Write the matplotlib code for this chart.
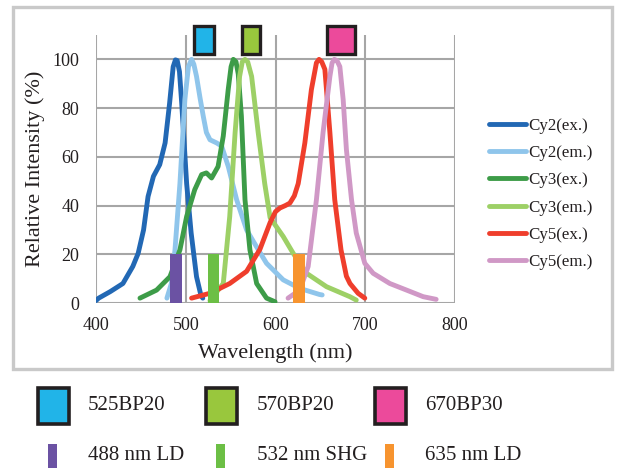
import matplotlib
matplotlib.use("Agg")
import matplotlib.pyplot as plt
from matplotlib.patches import Rectangle

plt.rcParams['font.family'] = ['Liberation Serif', 'DejaVu Serif']

# ---- data ----
cy2_ex_x = [400, 403, 416, 430, 441, 447, 453, 458, 464, 471, 477, 482, 486, 488.5, 490.5, 493, 495.5, 501, 506, 512, 517, 519]
cy2_ex_y = [1, 2, 4.7, 8, 15, 20.4, 30, 43.7, 52, 56.8, 65.7, 82, 97, 99.8, 99.5, 95, 82, 49, 28.8, 10.8, 3, 2]

cy2_em_x = [479, 484, 488, 493.5, 499, 503, 506.5, 509, 512, 516, 519.5, 523, 527, 534.4, 540, 547.4, 556.7, 567.8, 579, 590, 608.6, 627, 649, 652]
cy2_em_y = [2, 8, 21.8, 49, 83.5, 97, 100, 98, 93, 84, 76.7, 70, 67, 65.7, 64.4, 56, 42.4, 30, 23, 16.3, 9.5, 6, 3.5, 3.3]

cy3_ex_x = [449, 467.5, 482.4, 493.5, 501, 510, 517.7, 523, 528.8, 536, 541.8, 547.3, 550.5, 553, 556, 558.5, 562, 566, 571.5, 579, 590, 599.5]
cy3_ex_y = [2, 5.3, 10.8, 21.8, 35.5, 46.5, 52.7, 53.4, 51.3, 56, 68.5, 87.6, 97, 100, 99, 94, 76.7, 42.4, 21.8, 8, 2, 0.5]

cy3_em_x = [527, 541.8, 549, 555, 560, 563, 566, 569, 573.4, 580.7, 588, 594, 608.6, 619.7, 634.6, 656.8, 682.8, 690]
cy3_em_y = [1, 8, 35.5, 70, 93, 99, 100, 99, 93, 70, 49, 35, 27.3, 20.4, 12.2, 6.7, 2.6, 1.2]

cy5_ex_x = [506.5, 527, 549, 567.8, 582.6, 594, 600, 605, 611, 616, 621, 625.3, 632.7, 640, 645.6, 648.5, 651.5, 655, 660.6, 666, 673, 679, 683, 692, 699.5]
cy5_ex_y = [2, 4, 8, 13, 22, 33, 37.5, 39, 40, 41, 44, 49, 65.7, 87.6, 98.6, 100, 99, 95.9, 70, 42.4, 21.8, 11, 8, 4, 2]

cy5_em_x = [614, 627, 636.4, 645.6, 653, 660.6, 663, 665.5, 668.5, 671.7, 675.4, 679, 684.7, 690, 699.5, 708.8, 727.4, 746, 764.5, 779]
cy5_em_y = [2, 5.3, 15, 42.4, 70, 93, 98.5, 100, 99.5, 97, 83.5, 63, 42.4, 28.7, 16.3, 12.2, 8, 5.3, 2.6, 1.5]

series_labels = ["Cy2(ex.)", "Cy2(em.)", "Cy3(ex.)", "Cy3(em.)", "Cy5(ex.)", "Cy5(em.)"]
series_colors = ["#2268b4", "#8fc5eb", "#3d9c48", "#9dd066", "#ef3e2c", "#d098c6"]

filter_labels = ["525BP20", "570BP20", "670BP30"]
filter_centers = [520.6, 573, 673.4]
filter_widths = [22, 20, 31]
filter_colors = ["#21b4e8", "#99c73d", "#ec4a9b"]

laser_labels = ["488 nm LD", "532 nm SHG", "635 nm LD"]
laser_centers = [489, 531, 626]
laser_widths = [13, 12, 13]
laser_height = 20
laser_colors = ["#6b52a3", "#6cbf45", "#f7942f"]

xticks = [400, 500, 600, 700, 800]
yticks = [0, 20, 40, 60, 80, 100]

# ---- figure ----
W, H = 617, 468
fig = plt.figure(figsize=(W / 100, H / 100), dpi=100)

def fx(px):
    return px / W

def fy(py):
    return 1 - py / H

# outer frame
fig.patches.append(Rectangle((fx(13), fy(369)), fx(612) - fx(13), fy(7) - fy(369),
                             transform=fig.transFigure, fill=False,
                             edgecolor="#c9c9c9", linewidth=2.4))

ax = fig.add_axes([fx(96), fy(303), fx(455) - fx(96), fy(35) - fy(303)])
ax.set_xlim(400, 800)
ax.set_ylim(0, 110)
ax.set_xticks(xticks)
ax.set_yticks(yticks)
for s in ax.spines.values():
    s.set_visible(False)
ax.grid(True, color="#a6a6a6", linewidth=1.5)
ax.set_axisbelow(True)
ax.tick_params(length=0, labelsize=13, colors="#231f20")
ax.tick_params(axis='y', pad=12)
ax.tick_params(axis='x', pad=10)

xs = [cy2_ex_x, cy2_em_x, cy3_ex_x, cy3_em_x, cy5_ex_x, cy5_em_x]
ys = [cy2_ex_y, cy2_em_y, cy3_ex_y, cy3_em_y, cy5_ex_y, cy5_em_y]
handles = []
for x, y, c, lab in zip(xs, ys, series_colors, series_labels):
    ln, = ax.plot(x, y, color=c, linewidth=3.5, solid_capstyle='round',
                  solid_joinstyle='round', label=lab, zorder=3)
    handles.append(ln)

# laser bars
for c, w, col in zip(laser_centers, laser_widths, laser_colors):
    ax.bar(c, laser_height, width=w, color=col, zorder=4, linewidth=0)

# filter boxes above plot
for c, w, col in zip(filter_centers, filter_widths, filter_colors):
    ax.add_patch(Rectangle((c - w / 2, 102.3), w, 11.5, facecolor=col,
                           edgecolor="#231f20", linewidth=2.4, clip_on=False, zorder=5))

ax.set_xlabel("Wavelength (nm)", fontsize=16, color="#231f20")
ax.set_ylabel("Relative Intensity (%)", fontsize=16, color="#231f20")
ax.xaxis.set_label_coords(0.5, -0.15)
ax.yaxis.set_label_coords(-0.142, 0.5)

leg = fig.legend(handles=handles, loc="upper left",
                 bbox_to_anchor=(fx(489), fy(118)), frameon=False,
                 fontsize=12.2, handlelength=2.2, handletextpad=0.1,
                 labelspacing=0.66, borderpad=0, borderaxespad=0)
for t in leg.get_texts():
    t.set_color("#231f20")

# bottom legend: filters
sq_x = [36, 204, 373]
txt_x = [88, 257, 425]
for sx, tx, lab, col in zip(sq_x, txt_x, filter_labels, filter_colors):
    fig.patches.append(Rectangle((fx(sx + 1.7), fy(423.5)), fx(31), fy(387.5) - fy(423.5),
                                 transform=fig.transFigure, facecolor=col,
                                 edgecolor="#231f20", linewidth=2.6))
    fig.text(fx(tx), fy(406), lab, fontsize=15, va="center", ha="left", color="#231f20")

# bottom legend: lasers
bar_x = [48, 216, 385]
for bx, tx, lab, col in zip(bar_x, txt_x, laser_labels, laser_colors):
    fig.patches.append(Rectangle((fx(bx), fy(468)), fx(9), fy(444) - fy(468),
                                 transform=fig.transFigure, facecolor=col, linewidth=0))
    fig.text(fx(tx), fy(456), lab, fontsize=15, va="center", ha="left", color="#231f20")

fig.savefig("out.png", dpi=100)
